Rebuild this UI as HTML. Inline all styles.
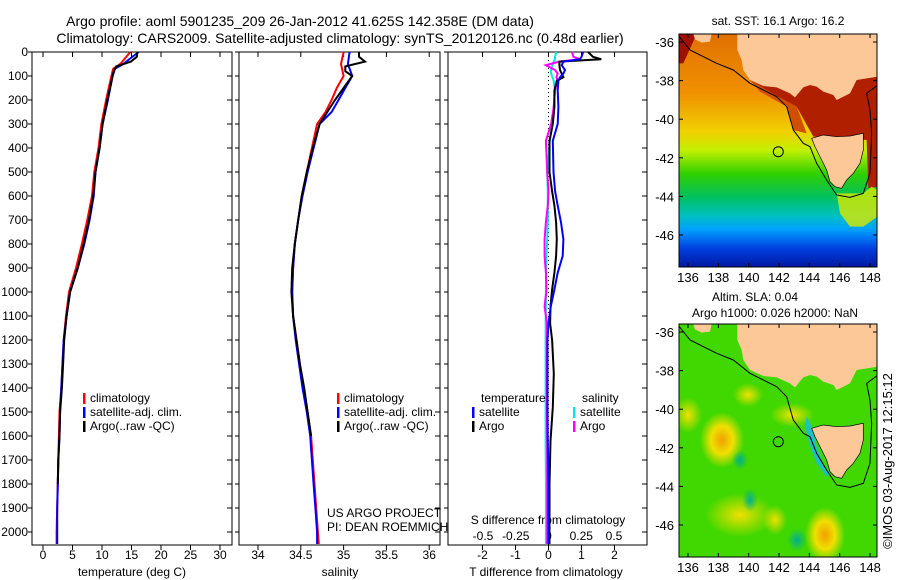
<!DOCTYPE html>
<html><head><meta charset="utf-8"><style>
html,body{margin:0;padding:0;background:#fff;}
svg{display:block;font-family:"Liberation Sans",sans-serif;}
</style></head><body>
<svg id="fig" width="900" height="580" viewBox="0 0 900 580" xmlns="http://www.w3.org/2000/svg">
<rect width="900" height="580" fill="#fff"/>
<text x="300" y="26" font-size="14" text-anchor="middle">Argo profile: aoml 5901235_209 26-Jan-2012 41.625S 142.358E (DM data)</text>
<text x="340" y="43" font-size="14" text-anchor="middle">Climatology: CARS2009. Satellite-adjusted climatology: synTS_20120126.nc (0.48d earlier)</text>
<g id="p1"></g>
<g id="p2"></g>
<g id="p3"></g>

<!-- SST map -->
<g>
<defs>
<linearGradient id="sstg" x1="0" y1="0" x2="0" y2="1">
<stop offset="0" stop-color="#e07000"/><stop offset="0.25" stop-color="#f09000"/>
<stop offset="0.42" stop-color="#f0d000"/><stop offset="0.5" stop-color="#c0f000"/>
<stop offset="0.6" stop-color="#30d000"/><stop offset="0.7" stop-color="#00c060"/>
<stop offset="0.78" stop-color="#00c0c0"/><stop offset="0.84" stop-color="#00a0ff"/>
<stop offset="0.92" stop-color="#0040e0"/><stop offset="1" stop-color="#0018a0"/>
</linearGradient>
<clipPath id="c1"><rect x="679" y="34" width="198" height="233"/></clipPath>
<clipPath id="c2"><rect x="679" y="324" width="198" height="233"/></clipPath>
<radialGradient id="yb"><stop offset="0" stop-color="#f0e000"/><stop offset="1" stop-color="#f0e000" stop-opacity="0"/></radialGradient>
<radialGradient id="ob"><stop offset="0" stop-color="#f0a000"/><stop offset="0.5" stop-color="#f0e000"/><stop offset="1" stop-color="#f0e000" stop-opacity="0"/></radialGradient>
<radialGradient id="gb"><stop offset="0" stop-color="#00b090"/><stop offset="1" stop-color="#00b090" stop-opacity="0"/></radialGradient>
</defs>
<text x="778" y="25" font-size="12" text-anchor="middle">sat. SST: 16.1 Argo: 16.2</text>
<g clip-path="url(#c1)">
<rect x="679" y="34" width="198" height="233" fill="url(#sstg)"/>
<polygon transform="translate(650,0) scale(0.3333)" points="88,102,140,102,100,190,88,190" fill="#a01000"/>
<polygon transform="translate(650,0) scale(0.3333)" points="300,240,682,220,682,560,655,565,650,420,490,410,440,320,380,288" fill="#b02000"/>
<polygon transform="translate(650,0) scale(0.3333)" points="300,240,380,288,440,320,470,400,430,390,410,320,330,275" fill="#d05000"/>
<polygon transform="translate(650,0) scale(0.3333)" points="560,580,640,580,665,560,682,570,682,650,640,680,600,680,570,640" fill="#d8e800" opacity="0.8"/>
<polygon transform="translate(650,0) scale(0.3333)" points="262,102,682,102,682,230,620,240,600,280,560,300,550,285,520,275,500,260,480,255,460,262,435,292,420,280,380,262,340,258,300,240,280,210,275,180,262,150" fill="#fcc898"/>
<polygon transform="translate(650,0) scale(0.3333)" points="130,102,185,102,180,125,155,128,135,118" fill="#fcc898"/>
<polygon transform="translate(650,0) scale(0.3333)" points="485,415,520,405,560,410,600,408,640,400,640,450,630,490,610,520,590,540,575,565,555,560,540,545,530,510,510,470,495,440" fill="#fcc898" stroke="#000" stroke-width="2"/>
<polyline transform="translate(650,0) scale(0.3333)" points="88,110,120,150,200,190,250,210,300,250,380,290,410,320,430,390,460,430,480,440,500,490,530,540,560,585,600,592,640,580,660,520,665,400,660,330,650,280,680,258" fill="none" stroke="#000" stroke-width="3"/>
<circle cx="778.3" cy="151.7" r="5" fill="none" stroke="#000"/>
</g>
<rect x="679" y="34" width="198" height="233" fill="none" stroke="#000"/>
</g>

<!-- SLA map -->
<g>
<text x="755" y="301" font-size="12" text-anchor="middle">Altim. SLA: 0.04</text>
<text x="775" y="317" font-size="12" text-anchor="middle">Argo h1000: 0.026 h2000: NaN</text>
<g clip-path="url(#c2)">
<rect x="679" y="324" width="198" height="233" fill="#40d800"/>
<ellipse cx="722" cy="440" rx="22" ry="28" fill="url(#ob)"/>
<ellipse cx="688" cy="415" rx="14" ry="18" fill="url(#yb)"/>
<ellipse cx="740" cy="515" rx="35" ry="22" fill="url(#yb)"/>
<ellipse cx="825" cy="535" rx="20" ry="28" fill="url(#ob)"/>
<ellipse cx="792" cy="415" rx="22" ry="12" fill="url(#yb)"/>
<ellipse cx="748" cy="395" rx="15" ry="12" fill="url(#yb)"/>
<ellipse cx="775" cy="520" rx="12" ry="15" fill="url(#yb)"/>
<ellipse cx="750" cy="500" rx="8" ry="12" fill="url(#gb)"/>
<ellipse cx="797" cy="540" rx="10" ry="12" fill="url(#gb)"/>
<ellipse cx="740" cy="460" rx="8" ry="10" fill="url(#gb)"/>
<polygon transform="translate(650,290) scale(0.3333)" points="470,380,490,420,500,470,520,520,540,550,530,560,500,520,480,470,465,410" fill="#20c0c0"/>
<polygon transform="translate(650,290) scale(0.3333)" points="262,102,682,102,682,230,620,240,600,280,560,300,550,285,520,275,500,260,480,255,460,262,435,292,420,280,380,262,340,258,300,240,280,210,275,180,262,150" fill="#fcc898"/>
<polygon transform="translate(650,290) scale(0.3333)" points="130,102,185,102,180,125,155,128,135,118" fill="#fcc898"/>
<polygon transform="translate(650,290) scale(0.3333)" points="485,415,520,405,560,410,600,408,640,400,640,450,630,490,610,520,590,540,575,565,555,560,540,545,530,510,510,470,495,440" fill="#fcc898" stroke="#000" stroke-width="2"/>
<polyline transform="translate(650,290) scale(0.3333)" points="88,110,120,150,200,190,250,210,300,250,380,290,410,320,430,390,460,430,480,440,500,490,530,540,560,585,600,592,640,580,660,520,665,400,660,330,650,280,680,258" fill="none" stroke="#000" stroke-width="3"/>
<circle cx="778.3" cy="441.7" r="5" fill="none" stroke="#000"/>
</g>
<rect x="679" y="324" width="198" height="233" fill="none" stroke="#000"/>
</g>
<g id="maxes"></g>
<text transform="translate(892,461) rotate(-90)" font-size="13" text-anchor="middle">©IMOS 03-Aug-2017 12:15:12</text>
</svg>
<script>
// ---- data ----
const tDepth = [0,50,70,100,200,300,400,500,600,700,800,900,1000,1100,1200,1300,1400,1500,1600,1700,1800,1900,2000,2050];
const tClim  = [14.8,13.1,11.9,11.6,10.7,9.9,9.4,8.7,8.3,7.5,6.6,5.6,4.4,3.9,3.5,3.3,3.1,2.8,2.7,2.6,2.5,2.4,2.3,2.3];
const tSat   = [16.2,13.6,12.2,11.8,11.0,10.1,9.6,8.9,8.6,7.9,7.0,5.9,4.6,4.0,3.5,3.3,3.1,2.9,2.8,2.6,2.5,2.4,2.4,2.4];
const tArgoDepth = [0,20,40,60,80,100,200,300,400,500,600,700,800,900,1000,1100,1200,1300,1400,1500,1600,1700,1800];
const tArgo  = [16.0,15.9,14.9,12.4,12.0,11.8,10.9,10.1,9.6,8.9,8.5,7.8,6.9,5.9,4.6,4.0,3.6,3.4,3.2,2.9,2.8,2.6,2.5];

const sDepth = [0,50,100,150,200,250,300,400,500,600,700,800,900,1000,1100,1200,1300,1400,1500,1600,1700,1800,1900,2000,2050];
const sClim  = [35.0,34.97,35.0,34.92,34.86,34.79,34.69,34.63,34.57,34.51,34.47,34.43,34.41,34.40,34.41,34.45,34.49,34.53,34.58,34.62,34.64,34.66,34.68,34.70,34.71];
const sSat   = [35.07,35.05,35.1,35.02,34.94,34.86,34.72,34.65,34.58,34.52,34.47,34.43,34.41,34.40,34.41,34.44,34.48,34.52,34.57,34.61,34.63,34.65,34.67,34.69,34.69];
const sArgoDepth = [0,20,40,60,80,100,150,200,300,400,500,600,700,800,900,1000,1100,1200,1300,1400,1500,1600];
const sArgo  = [35.18,35.18,35.25,35.02,35.02,35.1,35.0,34.9,34.72,34.64,34.57,34.51,34.47,34.43,34.40,34.39,34.41,34.45,34.49,34.54,34.58,34.62];

const dDepth = [0,20,30,40,55,75,90,105,120,160,230,300,370,500,580,640,710,780,850,920,990,1060,1130,1200,1340,1480,1620,1800,2000,2050];
const dTSat  = [1.05,1.0,0.95,0.45,0.4,0.5,0.45,0.35,0.3,0.28,0.3,0.28,0.13,0.15,0.2,0.28,0.38,0.45,0.43,0.28,0.18,0.07,0.0,-0.03,-0.03,-0.03,-0.02,0.0,0.0,0.0];
const dTArgo = [1.2,1.35,1.6,0.33,0.33,0.35,0.4,0.45,0.25,0.18,0.18,0.13,0.03,0.03,0.11,0.18,0.23,0.25,0.23,0.18,0.11,0.06,0.05,0.11,0.16,0.13,0.06,0.03,0.03,0.03];
const dSSat  = [0.06,0.05,0.05,0.04,0.03,0.02,0.02,0.03,0.04,0.05,0.04,0.03,0.01,-0.01,-0.005,-0.005,-0.005,-0.01,-0.015,-0.018,-0.02,-0.02,-0.022,-0.022,-0.022,-0.022,-0.022,-0.02,-0.02,-0.02];
const dSArgo = [0.18,0.19,0.24,0.08,-0.02,0.05,0.07,0.06,0.07,0.05,0.04,0.02,-0.02,-0.01,0.0,-0.005,-0.02,-0.03,-0.03,-0.02,-0.015,-0.03,-0.012,-0.012,-0.012,-0.012,-0.01,-0.01,-0.01,-0.01];

const depthTicks = [0,100,200,300,400,500,600,700,800,900,1000,1100,1200,1300,1400,1500,1600,1700,1800,1900,2000];
const tTicks = [0,5,10,15,20,25,30];
const sTicks = [34,34.5,35,35.5,36];
const sTickLabels = ["34","34.5","35","35.5","36"];
const dTTicks = [-2,-1,0,1,2];
const dSTicks = [-0.5,-0.25,0,0.25,0.5];
const dSTickLabels = ["-0.5","-0.25","0","0.25","0.5"];
const latTicks = [-36,-38,-40,-42,-44,-46];
const lonTicks = [136,138,140,142,144,146,148];

// ---- scales ----
const NS="http://www.w3.org/2000/svg";
const yTop=52, yBot=545;
const yD = d => 52 + d*0.24;
const xT = v => 43 + v*5.9;
const xS = v => 258 + (v-34)*85.6;
const xDT = v => 548.5 + v*33;
const xDS = v => 548.5 + v*131;
const lonX = v => 688 + (v-136)*15.17;
const latY = (v,off) => off + 42 + (-36 - v)*19.3;

function mk(tag, attrs, parent){const e=document.createElementNS(NS,tag);for(const k in attrs)e.setAttribute(k,attrs[k]);parent.appendChild(e);return e;}
function txt(parent,x,y,s,anchor,size){const t=mk('text',{x:x,y:y,'font-size':size||12,'text-anchor':anchor||'start'},parent);t.textContent=s;return t;}

function frame(g,x0,x1){
  const r=mk('rect',{x:x0,y:yTop,width:x1-x0,height:yBot-yTop,fill:'none',stroke:'#000'},g);
  
  
  depthTicks.forEach(d=>{
    mk('line',{x1:x0-4,x2:x0,y1:yD(d),y2:yD(d),stroke:'#000'},g);
    mk('line',{x1:x1-5,x2:x1,y1:yD(d),y2:yD(d),stroke:'#000'},g);
  });
}
function series(g,xs,ds,fx,color,name){
  const pts=xs.map((v,i)=>fx(v).toFixed(1)+','+yD(ds[i]).toFixed(1)).join(' ');
  const p=mk('polyline',{points:pts,fill:'none',stroke:color,'stroke-width':2},g);
  
  
}
function xaxis(g,ticks,labels,fx,ly){
  ticks.forEach((v,i)=>{
    mk('line',{x1:fx(v),x2:fx(v),y1:yBot,y2:yBot+5,stroke:'#000'},g);
    mk('line',{x1:fx(v),x2:fx(v),y1:yTop,y2:yTop+5,stroke:'#000'},g);
    const t=txt(g,fx(v),ly,labels[i],'middle');
    
    
  });
}
function legendEntry(g,x,y,color,label){
  mk('rect',{x:x,y:y-9,width:2.5,height:11,fill:color},g);
  const t=txt(g,x+7,y,label);
  
  
}

// panel 1
const p1=document.getElementById('p1');
frame(p1,32,232);
depthTicks.forEach(d=>{const t=txt(p1,28,yD(d)+4,String(d),'end');
  
  });
xaxis(p1,tTicks,tTicks.map(String),xT,559);
const t1=txt(p1,132,576,'temperature (deg C)','middle');


series(p1,tClim,tDepth,xT,'#ff0000','temp-climatology-line');
series(p1,tSat,tDepth,xT,'#0000ff','temp-satellite-line');
series(p1,tArgo,tArgoDepth,xT,'#000000','temp-argo-line');
legendEntry(p1,83,402,'#ff0000','climatology');
legendEntry(p1,83,416,'#0000ff','satellite-adj. clim.');
legendEntry(p1,83,430,'#000000','Argo(..raw -QC)');

// panel 2
const p2=document.getElementById('p2');
frame(p2,239,440);
xaxis(p2,sTicks,sTickLabels,xS,559);
const t2=txt(p2,340,576,'salinity','middle');


series(p2,sClim,sDepth,xS,'#ff0000','sal-climatology-line');
series(p2,sSat,sDepth,xS,'#0000ff','sal-satellite-line');
series(p2,sArgo,sArgoDepth,xS,'#000000','sal-argo-line');
legendEntry(p2,337,402,'#ff0000','climatology');
legendEntry(p2,337,416,'#0000ff','satellite-adj. clim.');
legendEntry(p2,337,430,'#000000','Argo(..raw -QC)');
txt(p2,327,517,'US ARGO PROJECT');
txt(p2,327,531,'PI: DEAN ROEMMICH');

// panel 3
const p3=document.getElementById('p3');
frame(p3,448,647);
mk('line',{x1:xDT(0),x2:xDT(0),y1:yTop,y2:yBot,stroke:'#000','stroke-dasharray':'1,3'},p3);
xaxis(p3,dTTicks,dTTicks.map(String),xDT,559);
dSTicks.forEach((v,i)=>{const t=txt(p3,xDS(v),540,dSTickLabels[i],'middle');
  
  });
txt(p3,548,524,'S difference from climatology','middle');
const t3=txt(p3,546,576,'T difference from climatology','middle');


series(p3,dSSat,dDepth,xDS,'#00e8e8','sdiff-satellite-line');
series(p3,dSArgo,dDepth,xDS,'#ff00ff','sdiff-argo-line');
series(p3,dTArgo,dDepth,xDT,'#000000','tdiff-argo-line');
series(p3,dTSat,dDepth,xDT,'#0000ff','tdiff-satellite-line');
txt(p3,481,402,'temperature');
txt(p3,582,402,'salinity');
legendEntry(p3,472,416,'#0000ff','satellite');
legendEntry(p3,573,416,'#00e8e8','satellite');
legendEntry(p3,472,430,'#000000','Argo');
legendEntry(p3,573,430,'#ff00ff','Argo');

// map axes
const ma=document.getElementById('maxes');
[0,290].forEach(off=>{
  const y0=off===0?34:324, y1=off===0?267:557;
  latTicks.forEach(v=>{
    const y=latY(v,off);
    mk('line',{x1:679,x2:683,y1:y,y2:y,stroke:'#000'},ma);
    mk('line',{x1:873,x2:877,y1:y,y2:y,stroke:'#000'},ma);
    const t=txt(ma,674,y+5,String(v),'end',13);
    
    
  });
  lonTicks.forEach(v=>{
    const x=lonX(v);
    mk('line',{x1:x,x2:x,y1:y1-4,y2:y1,stroke:'#000'},ma);
    mk('line',{x1:x,x2:x,y1:y0,y2:y0+4,stroke:'#000'},ma);
    const t=txt(ma,x,y1+15,String(v),'middle',13);
    
    
  });
});
</script>
</body></html>
